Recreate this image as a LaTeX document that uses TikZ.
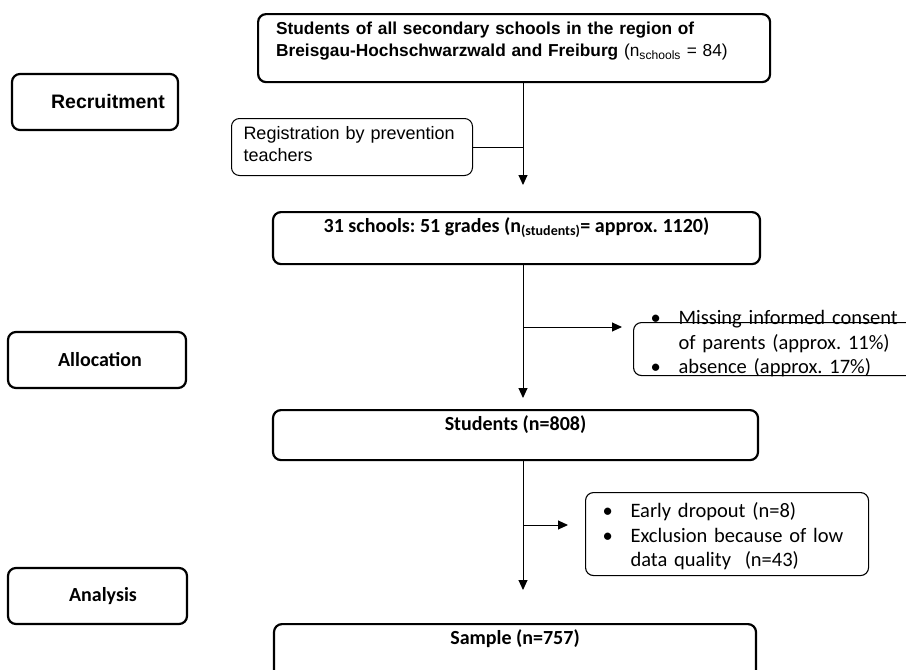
\documentclass[tikz,border=0pt]{standalone}
\usepackage{fontspec}
\setmainfont{Liberation Sans}
\newfontfamily\calibri{Carlito}
\usetikzlibrary{arrows.meta}
\frenchspacing

\begin{document}
\begin{tikzpicture}[
        x=1pt, y=-1pt,
        phase/.style={draw, line width=2.2pt, rounded corners=8pt, inner sep=0pt,
            minimum height=56pt},
        stage/.style={draw, line width=2.2pt, rounded corners=8pt, inner sep=0pt,
            text height=20pt, font=\calibri\bfseries\fontsize{20}{24}\selectfont},
        note/.style={draw, line width=1.1pt, rounded corners=8pt, align=left,
            inner ysep=0pt, anchor=north west},
        flow/.style={line width=1pt, -{Triangle[width=9pt,length=10pt]}},
        link/.style={line width=1pt},
    ]
    \useasboundingbox (0,0) rectangle (906,670);

    % phases
    \node[phase, minimum width=166pt, font=\bfseries\fontsize{19.5}{23}\selectfont]
        (recruit) at (95,102) {\hspace*{26pt}Recruitment};
    \node[phase, minimum width=178pt, font=\calibri\bfseries\fontsize{20}{24}\selectfont]
        (alloc) at (97,360) {\hspace*{6pt}Allocation};
    \node[phase, minimum width=179pt, font=\calibri\bfseries\fontsize{20}{24}\selectfont]
        (analysis) at (97.5,596) {\hspace*{11pt}Analysis};

    % flow boxes
    \node[draw, line width=2.2pt, rounded corners=8pt, anchor=north west,
          inner xsep=18pt, inner ysep=0pt, text width=476pt, align=left,
          text height=20.5pt, text depth=47.5pt,
          font=\bfseries\fontsize{17.3}{22}\selectfont]
        (top) at (257,13)
        {Students of all secondary schools in the region of\\
         Breisgau-Hochschwarzwald and Freiburg
         {\mdseries (n\textsubscript{schools} = 84)}};
    \node[note, line width=1pt, inner xsep=12pt, text width=217pt,
          text height=21pt, text depth=36pt, font=\fontsize{18}{22}\selectfont]
        (reg) at (231,118) {Registration by prevention\\teachers};
    \node[stage, anchor=north, minimum width=487pt, text depth=32pt]
        (grades) at (516.5,211)
        {31 schools: 51 grades (n\textsubscript{(students)}= approx. 1120)};
    \node[note, inner xsep=17pt, text width=266pt, text height=2pt, text depth=51pt,
          font=\calibri\fontsize{20.5}{24.5}\selectfont]
        (miss) at (633,322)
        {\makebox[28pt][l]{\textbullet}Missing informed consent\\
         \hspace*{28pt}of parents (approx. 11\%)\\
         \makebox[28pt][l]{\textbullet}absence (approx. 17\%)};
    \node[stage, anchor=north, minimum width=485pt, text depth=30pt]
        (students) at (515.5,409) {Students (n=808)};
    \node[note, inner xsep=17pt, text width=249pt, text height=25pt, text depth=58pt,
          font=\calibri\fontsize{20.5}{24.5}\selectfont]
        (early) at (585,492)
        {\makebox[28pt][l]{\textbullet}Early dropout (n=8)\\
         \makebox[28pt][l]{\textbullet}Exclusion because of low\\
         \hspace*{28pt}data quality~ (n=43)};
    \node[stage, anchor=north, minimum width=482pt, text depth=40pt]
        (sample) at (515,623) {Sample (n=757)};

    % connectors
    \coordinate (t1) at (523,185);
    \coordinate (t2) at (523,398);
    \coordinate (t3) at (523,590);
    \coordinate (j2) at (523,327);
    \coordinate (j3) at (523,525);

    \draw[flow] (top.south -| t1) -- (t1);
    \draw[link] (reg.east) -- (reg.east -| t1);
    \draw[flow] (grades.south -| t2) -- (t2);
    \draw[flow] (j2) -- ([xshift=-11pt]miss.west |- j2);
    \draw[flow] (students.south -| t3) -- (t3);
    \draw[flow] (j3) -- ([xshift=-17pt]early.west |- j3);
\end{tikzpicture}
\end{document}
